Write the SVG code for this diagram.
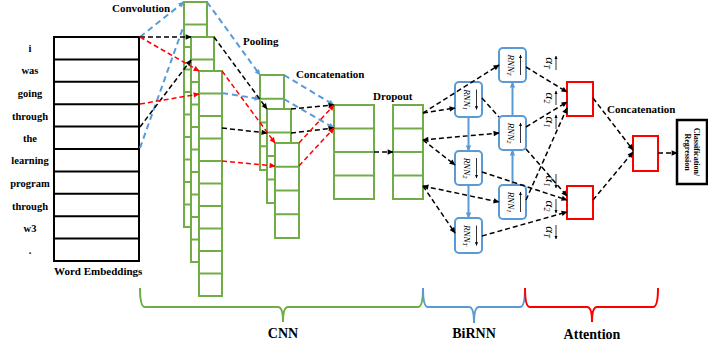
<svg xmlns="http://www.w3.org/2000/svg" width="708" height="349" viewBox="0 0 708 349">
<style>
text{font-family:"Liberation Serif","Times New Roman",serif;font-weight:bold;fill:#000}
.lbl{font-size:11px}
.word{font-size:10.5px;text-anchor:middle}
.big{font-size:14px;text-anchor:middle}
.we{fill:#fff;stroke:#000;stroke-width:2}
.weL{stroke:#000;stroke-width:2}
.g{fill:#fff;stroke:#70AD47;stroke-width:2}
.gL{stroke:#70AD47;stroke-width:2}
.rnn{fill:#fff;stroke:#5B9BD5;stroke-width:2}
.rt{font-size:9px;font-style:italic;font-weight:normal;text-anchor:middle}
.al{font-size:13px;font-style:italic;font-weight:normal;text-anchor:middle}
.red{fill:#fff;stroke:#FF0000;stroke-width:2}
.bd{fill:none;stroke:#5B9BD5;stroke-width:2;stroke-dasharray:6 4}
.kd{fill:none;stroke:#000;stroke-width:1.5;stroke-dasharray:5 3}
.rd{fill:none;stroke:#FF0000;stroke-width:1.5;stroke-dasharray:5 3}
.bs{fill:none;stroke:#5B9BD5;stroke-width:2}
.ov{stroke:#000;stroke-width:0.8}
</style>
<defs>
<marker id="ak" viewBox="0 0 10 10" refX="9" refY="5" markerWidth="7" markerHeight="6" markerUnits="userSpaceOnUse" orient="auto-start-reverse"><path d="M0,0.5 L10,5 L0,9.5 z" fill="#000"/></marker>
<marker id="ar" viewBox="0 0 10 10" refX="9" refY="5" markerWidth="7" markerHeight="6" markerUnits="userSpaceOnUse" orient="auto-start-reverse"><path d="M0,0.5 L10,5 L0,9.5 z" fill="#FF0000"/></marker>
<marker id="ab" viewBox="0 0 10 10" refX="9" refY="5" markerWidth="7" markerHeight="6" markerUnits="userSpaceOnUse" orient="auto-start-reverse"><path d="M0,0.5 L10,5 L0,9.5 z" fill="#5B9BD5"/></marker>
<marker id="as" viewBox="0 0 10 10" refX="9" refY="5" markerWidth="4" markerHeight="3.5" markerUnits="userSpaceOnUse" orient="auto-start-reverse"><path d="M0,0.5 L10,5 L0,9.5 z" fill="#000"/></marker>
</defs>

<!-- Word embeddings -->
<g id="word-embeddings">
<rect class="we" x="54" y="37" width="85" height="224"/>
<path class="weL" d="M54,59.4H139M54,81.8H139M54,104.2H139M54,126.6H139M54,149H139M54,171.4H139M54,193.8H139M54,216.2H139M54,238.6H139"/>
<text class="word" x="30" y="52">i</text>
<text class="word" x="30" y="74">was</text>
<text class="word" x="30" y="96.5">going</text>
<text class="word" x="30" y="120">through</text>
<text class="word" x="30" y="141.5">the</text>
<text class="word" x="30" y="164">learning</text>
<text class="word" x="30" y="187">program</text>
<text class="word" x="30" y="210">through</text>
<text class="word" x="30" y="232">w3</text>
<text class="word" x="30" y="254">.</text>
<text class="lbl" x="54" y="275">Word Embeddings</text>
</g>

<!-- Convolution stacks -->
<g id="conv-1">
<rect class="g" x="184" y="2" width="23" height="225"/>
<path class="gL" d="M184,24.5h23M184,47h23M184,69.5h23M184,92h23M184,114.5h23M184,137h23M184,159.5h23M184,182h23M184,204.5h23"/>
</g>
<g id="conv-2">
<rect class="g" x="191" y="37" width="23" height="225"/>
<path class="gL" d="M191,59.5h23M191,82h23M191,104.5h23M191,127h23M191,149.5h23M191,172h23M191,194.5h23M191,217h23M191,239.5h23"/>
</g>
<g id="conv-3">
<rect class="g" x="199" y="71" width="23" height="225"/>
<path class="gL" d="M199,93.5h23M199,116h23M199,138.5h23M199,161h23M199,183.5h23M199,206h23M199,228.5h23M199,251h23M199,273.5h23"/>
</g>
<text class="lbl" x="112" y="12">Convolution</text>

<!-- Pooling stacks -->
<g id="pool-1">
<rect class="g" x="260" y="75" width="24" height="95"/>
<path class="gL" d="M260,98.75h24M260,122.5h24M260,146.25h24"/>
</g>
<g id="pool-2">
<rect class="g" x="267" y="109" width="24" height="94"/>
<path class="gL" d="M267,132.5h24M267,156h24M267,179.5h24"/>
</g>
<g id="pool-3">
<rect class="g" x="275" y="143" width="24" height="95"/>
<path class="gL" d="M275,166.75h24M275,190.5h24M275,214.25h24"/>
</g>
<text class="lbl" x="243" y="45">Pooling</text>

<!-- Concatenation -->
<g id="concat">
<rect class="g" x="334" y="105" width="40" height="94"/>
<path class="gL" d="M334,128.5h40M334,152h40M334,175.5h40"/>
</g>
<text class="lbl" x="296" y="77.5">Concatenation</text>

<!-- Dropout -->
<g id="dropout">
<rect class="g" x="393" y="105" width="30" height="94"/>
<path class="gL" d="M393,128.5h30M393,152h30M393,175.5h30"/>
</g>
<text class="lbl" x="373" y="99.5">Dropout</text>

<!-- RNN boxes -->
<g id="rnn-f1">
<rect class="rnn" x="455" y="82" width="27" height="35" rx="4"/>
<g transform="translate(468.5,99.5) rotate(90)">
<text class="rt" x="0" y="4.5">RNN<tspan font-size="6.5" dy="1.5">1</tspan></text>
<line class="ov" x1="-10" y1="-8" x2="10" y2="-8" marker-end="url(#as)"/>
</g>
</g>
<g id="rnn-f2">
<rect class="rnn" x="455" y="151" width="27" height="34" rx="4"/>
<g transform="translate(468.5,168) rotate(90)">
<text class="rt" x="0" y="4.5">RNN<tspan font-size="6.5" dy="1.5">2</tspan></text>
<line class="ov" x1="-10" y1="-8" x2="10" y2="-8" marker-end="url(#as)"/>
</g>
</g>
<g id="rnn-fT">
<rect class="rnn" x="455" y="218" width="27" height="35" rx="4"/>
<g transform="translate(468.5,235.5) rotate(90)">
<text class="rt" x="0" y="4.5">RNN<tspan font-size="6.5" dy="1.5">T</tspan></text>
<line class="ov" x1="-10" y1="-8" x2="10" y2="-8" marker-end="url(#as)"/>
</g>
</g>
<g id="rnn-bT">
<rect class="rnn" x="499" y="48" width="27" height="34" rx="4"/>
<g transform="translate(512.5,65) rotate(90)">
<text class="rt" x="0" y="4.5">RNN<tspan font-size="6.5" dy="1.5">T</tspan></text>
<line class="ov" x1="-10" y1="-8" x2="10" y2="-8" marker-start="url(#as)"/>
</g>
</g>
<g id="rnn-b2">
<rect class="rnn" x="499" y="116" width="27" height="34" rx="4"/>
<g transform="translate(512.5,133) rotate(90)">
<text class="rt" x="0" y="4.5">RNN<tspan font-size="6.5" dy="1.5">2</tspan></text>
<line class="ov" x1="-10" y1="-8" x2="10" y2="-8" marker-start="url(#as)"/>
</g>
</g>
<g id="rnn-b1">
<rect class="rnn" x="499" y="185" width="27" height="34" rx="4"/>
<g transform="translate(512.5,202) rotate(90)">
<text class="rt" x="0" y="4.5">RNN<tspan font-size="6.5" dy="1.5">1</tspan></text>
<line class="ov" x1="-10" y1="-8" x2="10" y2="-8" marker-start="url(#as)"/>
</g>
</g>

<!-- Attention boxes -->
<g id="att-upper"><rect class="red" x="567" y="82" width="26" height="34"/></g>
<g id="att-lower"><rect class="red" x="567" y="186" width="26" height="33"/></g>
<g id="att-concat"><rect class="red" x="633" y="136" width="25" height="35"/></g>
<text class="lbl" x="607" y="113">Concatenation</text>
<g id="classifier">
<rect x="677" y="120" width="30" height="64" fill="#fff" stroke="#000" stroke-width="2.5"/>
<g transform="translate(692,152) rotate(90)">
<text x="0" y="-2" font-size="8" text-anchor="middle">Classification/</text>
<text x="0" y="7" font-size="8" text-anchor="middle">Regression</text>
</g>
</g>

<!-- alpha labels -->
<g id="alpha-labels">
<g transform="translate(549,63) rotate(90)"><text class="al" x="0" y="3">α<tspan font-size="8" dy="2">T</tspan></text><line class="ov" x1="-7" y1="-7" x2="7" y2="-7" marker-start="url(#as)"/></g>
<g transform="translate(549,98) rotate(90)"><text class="al" x="0" y="3">α<tspan font-size="8" dy="2">2</tspan></text><line class="ov" x1="-7" y1="-7" x2="7" y2="-7" marker-start="url(#as)"/></g>
<g transform="translate(549,122) rotate(90)"><text class="al" x="0" y="3">α<tspan font-size="8" dy="2">1</tspan></text><line class="ov" x1="-7" y1="-7" x2="7" y2="-7" marker-start="url(#as)"/></g>
<g transform="translate(549,181) rotate(90)"><text class="al" x="0" y="3">α<tspan font-size="8" dy="2">1</tspan></text><line class="ov" x1="-7" y1="-7" x2="7" y2="-7" marker-end="url(#as)"/></g>
<g transform="translate(549,206) rotate(90)"><text class="al" x="0" y="3">α<tspan font-size="8" dy="2">2</tspan></text><line class="ov" x1="-7" y1="-7" x2="7" y2="-7" marker-end="url(#as)"/></g>
<g transform="translate(549,232) rotate(90)"><text class="al" x="0" y="3">α<tspan font-size="8" dy="2">T</tspan></text><line class="ov" x1="-7" y1="-7" x2="7" y2="-7" marker-end="url(#as)"/></g>
</g>

<!-- Connectors -->
<g id="connectors">
<path class="bd" d="M140,37 L184,2" marker-end="url(#ab)"/>
<path class="bd" d="M140,148 L184,25"/>
<path class="bd" d="M207,2 L260,75" marker-end="url(#ab)"/>
<path class="bd" d="M222,93 L260,99" marker-end="url(#ab)"/>
<path class="bd" d="M284,75 L334,105" marker-end="url(#ab)"/>
<path class="bd" d="M284,99 L334,128" marker-end="url(#ab)"/>

<path class="kd" d="M140,37 L191,37" marker-end="url(#ak)"/>
<path class="kd" d="M140,127 L191,60" marker-end="url(#ak)"/>
<path class="kd" d="M214,37 L267,109" marker-end="url(#ak)"/>
<path class="kd" d="M222,128 L267,133" marker-end="url(#ak)"/>
<path class="kd" d="M291,109 L334,105" marker-end="url(#ak)"/>
<path class="kd" d="M291,133 L334,128" marker-end="url(#ak)"/>
<path class="kd" d="M374,152 L393,152" marker-end="url(#ak)"/>

<path class="rd" d="M140,37 L199,71" marker-end="url(#ar)"/>
<path class="rd" d="M140,104 L199,94" marker-end="url(#ar)"/>
<path class="rd" d="M222,71 L275,143" marker-end="url(#ar)"/>
<path class="rd" d="M222,161 L275,166" marker-end="url(#ar)"/>
<path class="rd" d="M299,143 L334,105" marker-end="url(#ar)"/>
<path class="rd" d="M299,166 L334,128" marker-end="url(#ar)"/>

<path class="kd" d="M423,113 L455,108" marker-end="url(#ak)"/>
<path class="kd" d="M423,113 L499,65" marker-end="url(#ak)"/>
<path class="kd" d="M423,140 L499,133" marker-start="url(#ak)" marker-end="url(#ak)"/>
<path class="kd" d="M423,140 L455,165" marker-end="url(#ak)"/>
<path class="kd" d="M423,186 L499,202" marker-start="url(#ak)" marker-end="url(#ak)"/>
<path class="kd" d="M423,186 L455,233" marker-end="url(#ak)"/>

<path class="bs" d="M468.5,117 L468.5,151" marker-end="url(#ab)"/>
<path class="bs" d="M468.5,185 L468.5,218" marker-end="url(#ab)"/>
<path class="bs" d="M512.5,185 L512.5,150" marker-end="url(#ab)"/>
<path class="bs" d="M512.5,116 L512.5,82" marker-end="url(#ab)"/>

<path class="kd" d="M526,67 L567,92" marker-end="url(#ak)"/>
<path class="kd" d="M526,127 L567,102" marker-end="url(#ak)"/>
<path class="kd" d="M526,200 L567,108" marker-end="url(#ak)"/>
<path class="kd" d="M482,98 L499,117"/>
<path class="kd" d="M526,149 L567,196" marker-end="url(#ak)"/>
<path class="kd" d="M482,172 L567,200" marker-end="url(#ak)"/>
<path class="kd" d="M482,236 L567,212" marker-end="url(#ak)"/>
<path class="kd" d="M593,98 L633,150" marker-end="url(#ak)"/>
<path class="kd" d="M593,200 L633,152" marker-end="url(#ak)"/>
<path class="kd" d="M658,153 L677,153" marker-end="url(#ak)"/>
</g>

<!-- Braces -->
<path d="M140,288 Q140,307 145,307 L278,307 Q283,307 283,322 Q283,307 288,307 L418,307 Q423,307 423,288" fill="none" stroke="#70AD47" stroke-width="2"/>
<path d="M423,288 Q423,307 428,307 L469,307 Q474,307 474,323 Q474,307 479,307 L520,307 Q525,307 525,288" fill="none" stroke="#5B9BD5" stroke-width="2"/>
<path d="M525,288 Q525,307 530,307 L587,307 Q592,307 592,322 Q592,307 597,307 L653,307 Q658,307 658,288" fill="none" stroke="#FF0000" stroke-width="2"/>
<text class="big" x="283" y="338">CNN</text>
<text class="big" x="474" y="338">BiRNN</text>
<text class="big" x="592" y="339">Attention</text>
</svg>
